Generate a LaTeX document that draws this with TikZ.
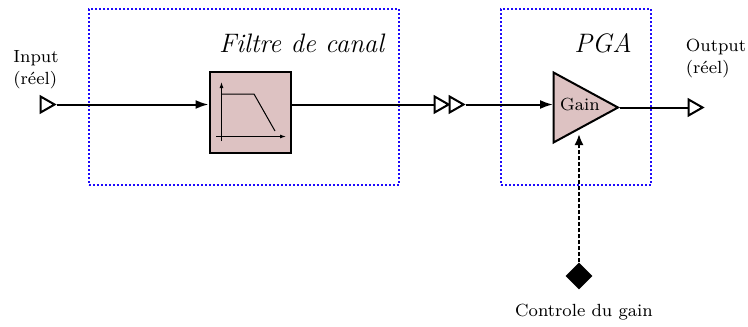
\documentclass[tikz,border=0pt]{standalone}
\usetikzlibrary{shapes.geometric,arrows.meta}
\definecolor{blockfill}{RGB}{221,194,194}
\definecolor{zonecol}{RGB}{30,10,250}
\newcommand{\lbl}[1]{\scalebox{2.2}{\fontsize{8}{10}\selectfont\begin{tabular}{@{}l@{}}#1\end{tabular}}}
\tikzset{
  x=1pt,y=-1pt,
  zone/.style={draw=zonecol,line width=2pt,dash pattern=on 2pt off 2pt,minimum height=176pt,inner sep=0pt,anchor=north west},
  port/.style={isosceles triangle,isosceles triangle apex angle=62,isosceles triangle stretches,draw=black,fill=white,line width=2pt,minimum width=16pt,minimum height=14pt,inner sep=0pt,anchor=apex},
  sig/.style={line width=2pt,-{Latex[length=13pt,width=9pt]}},
  wire/.style={line width=2pt},
  txt/.style={inner sep=0pt},
  ttl/.style={font=\fontsize{26.7}{30}\selectfont\itshape,inner sep=0pt},
  icon/.style={line width=1pt},
}
\begin{document}
\begin{tikzpicture}
\useasboundingbox (0,0) rectangle (748,327);
\node[zone,minimum width=310pt] (z1) at (88,8) {};
\node[zone,minimum width=150pt] (z2) at (500,8) {};
\node[ttl] (t1) at (301.5,43) {Filtre de canal};
\node[ttl] (t2) at (603,43) {PGA};
\node[port] (in) at (56.5,104.5) {};
\node[draw,line width=2pt,fill=blockfill,minimum width=81pt,minimum height=81pt,inner sep=0pt] (filt) at (250,112.5) {};
\node[port] (p1) at (450.5,104.5) {};
\node[port] (p2) at (465.5,104.5) {};
\node[port] (out) at (704.5,107.5) {};
\node[isosceles triangle,isosceles triangle apex angle=60,isosceles triangle stretches,draw,line width=2pt,fill=blockfill,minimum width=70pt,minimum height=64.5pt,inner sep=0pt,anchor=apex] (amp) at (620,107.5) {};
\node[txt] (g) at (580,106.5) {\lbl{Gain}};
\node[diamond,fill=black,minimum width=27pt,minimum height=27pt,inner sep=0pt] (ctl) at (579,276) {};
\coordinate (ctltip) at (579,134);
\coordinate (ampin) at (553,104.5);
\node[txt] (il) at (36,69.5) {\lbl{Input\\(réel)}};
\node[txt] (ol) at (716,58) {\lbl{Output\\(réel)}};
\node[txt] (cl) at (584,312) {\lbl{Controle du gain}};
\draw[sig] (in.apex) -- (filt.west |- in.apex);
\draw[wire] (filt.east |- p1.west) -- (p1.west);
\draw[sig] (p2.apex) -- (ampin);
\draw[wire] (amp.apex) -- (out.west);
\draw[line width=2pt,dash pattern=on 4pt off 2pt,-{Latex[length=11pt,width=9pt]}] (ctl.north) -- (ctltip);
\coordinate (v0) at (221.5,141);\coordinate (v1) at (221.5,82);
\coordinate (h0) at (216,136.5);\coordinate (h1) at (286,136.5);
\coordinate (c0) at (221.5,94);\coordinate (c1) at (254,94);\coordinate (c2) at (275,131);
\draw[icon,-{Latex[length=6pt,width=4pt]}] (v0) -- (v1);
\draw[icon,-{Latex[length=6pt,width=4pt]}] (h0) -- (h1);
\draw[icon] (c0) -- (c1) -- (c2);
\end{tikzpicture}
\end{document}
